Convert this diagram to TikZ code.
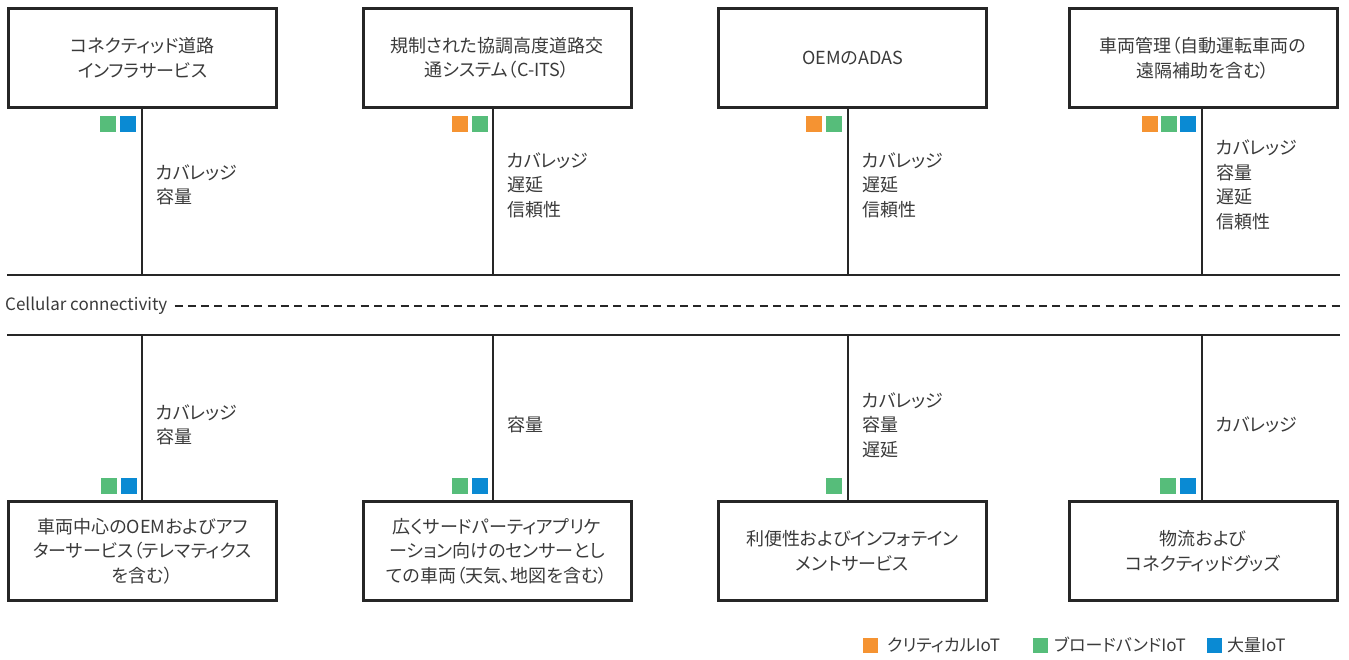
\documentclass[tikz,border=0pt]{standalone}
\usepackage{fontspec}
\setmainfont{Noto Sans CJK JP}[RawFeature=+palt]
\definecolor{linec}{HTML}{262626}
\definecolor{txt}{HTML}{3A3A3A}
\definecolor{iotor}{HTML}{F59332}
\definecolor{iotgr}{HTML}{56BD7A}
\definecolor{iotbl}{HTML}{0A8AD3}
\begin{document}
\begin{tikzpicture}[x=1pt,y=-1pt,
  svcbox/.style={draw=linec, line width=3pt, minimum width=268pt, minimum height=99pt,
    inner sep=0pt, align=center, text=txt, font=\fontsize{18}{24.5}\selectfont},
  sq/.style={minimum size=16pt, inner sep=0pt, draw=none},
  lsq/.style={minimum size=15pt, inner sep=0pt, draw=none},
  lbl/.style={anchor=west, align=left, inner sep=0pt, text=txt, font=\fontsize{18}{24.5}\selectfont},
  vline/.style={draw=linec, line width=2.6pt},
  hline/.style={draw=linec, line width=2.6pt},
  dline/.style={draw=linec, line width=2.6pt, dash pattern=on 8pt off 5.3pt}]
\useasboundingbox (0,0) rectangle (1349,659);

% horizontal rails
\coordinate (hl) at (7,275);
\coordinate (hr) at (1340,275);
\coordinate (bl) at (7,335);
\coordinate (br) at (1340,335);
\coordinate (dr) at (1340,306);
\draw[hline] (hl) -- (hr);
\draw[hline] (bl) -- (br);
\node[anchor=west, inner sep=0pt, text=txt, font=\fontsize{17}{20}\selectfont] (cc) at (5,306) {Cellular connectivity};
\draw[dline] ([xshift=7pt]cc.east) -- (dr);

% column line positions
\coordinate (c1) at (142,0);
\coordinate (c2) at (493,0);
\coordinate (c3) at (848,0);
\coordinate (c4) at (1202,0);

% top boxes
\node[svcbox] (t1) at (142.5,58) {コネクティッド道路\\インフラサービス};
\node[svcbox] (t2) at (497,58) {規制された協調高度道路交\\通システム（C-ITS）};
\node[svcbox] (t3) at (852.5,58) {OEMのADAS};
\node[svcbox] (t4) at (1203,58) {車両管理（自動運転車両の\\遠隔補助を含む）};

% bottom boxes
\node[svcbox] (b1) at (142.5,551) {車両中心のOEMおよびアフ\\ターサービス（テレマティクス\\を含む）};
\node[svcbox] (b2) at (497,551) {広くサードパーティアプリケ\\ーション向けのセンサーとし\\ての車両（天気、地図を含む）};
\node[svcbox] (b3) at (852.5,551) {利便性およびインフォテイン\\メントサービス};
\node[svcbox] (b4) at (1203,551) {物流および\\コネクティッドグッズ};

% vertical connectors
\foreach \i in {1,2,3,4}{
  \draw[vline] (t\i.south -| c\i) -- (hl -| c\i);
  \draw[vline] (b\i.north -| c\i) -- (bl -| c\i);
}

% labels
\node[lbl] (l1) at (156,185) {カバレッジ\\容量};
\node[lbl] (l2) at (507,185) {カバレッジ\\遅延\\信頼性};
\node[lbl] (l3) at (862,185) {カバレッジ\\遅延\\信頼性};
\node[lbl] (l4) at (1216,185) {カバレッジ\\容量\\遅延\\信頼性};
\node[lbl] (m1) at (156,425) {カバレッジ\\容量};
\node[lbl] (m2) at (507,425) {容量};
\node[lbl] (m3) at (862,425) {カバレッジ\\容量\\遅延};
\node[lbl] (m4) at (1216,425) {カバレッジ};

% top squares
\node[sq, fill=iotgr] (s1a) at (108,124) {};
\node[sq, fill=iotbl] (s1b) at (128,124) {};
\node[sq, fill=iotor] (s2a) at (460,124) {};
\node[sq, fill=iotgr] (s2b) at (480,124) {};
\node[sq, fill=iotor] (s3a) at (814,124) {};
\node[sq, fill=iotgr] (s3b) at (834,124) {};
\node[sq, fill=iotor] (s4a) at (1150,124) {};
\node[sq, fill=iotgr] (s4b) at (1169,124) {};
\node[sq, fill=iotbl] (s4c) at (1188,124) {};
% bottom squares
\node[sq, fill=iotgr] (u1a) at (109,486) {};
\node[sq, fill=iotbl] (u1b) at (129,486) {};
\node[sq, fill=iotgr] (u2a) at (460,486) {};
\node[sq, fill=iotbl] (u2b) at (480,486) {};
\node[sq, fill=iotgr] (u3a) at (834,486) {};
\node[sq, fill=iotgr] (u4a) at (1168,486) {};
\node[sq, fill=iotbl] (u4b) at (1188,486) {};

% legend
\node[lsq, fill=iotor] (k1) at (870.5,645.5) {};
\node[lbl, font=\fontsize{17}{20}\selectfont] (k1t) at (887,645) {クリティカルIoT};
\node[lsq, fill=iotgr] (k2) at (1040.5,645.5) {};
\node[lbl, font=\fontsize{17}{20}\selectfont] (k2t) at (1054,645) {ブロードバンドIoT};
\node[lsq, fill=iotbl] (k3) at (1214.5,645.5) {};
\node[lbl, font=\fontsize{17}{20}\selectfont] (k3t) at (1227,645) {大量IoT};
\end{tikzpicture}
\end{document}
